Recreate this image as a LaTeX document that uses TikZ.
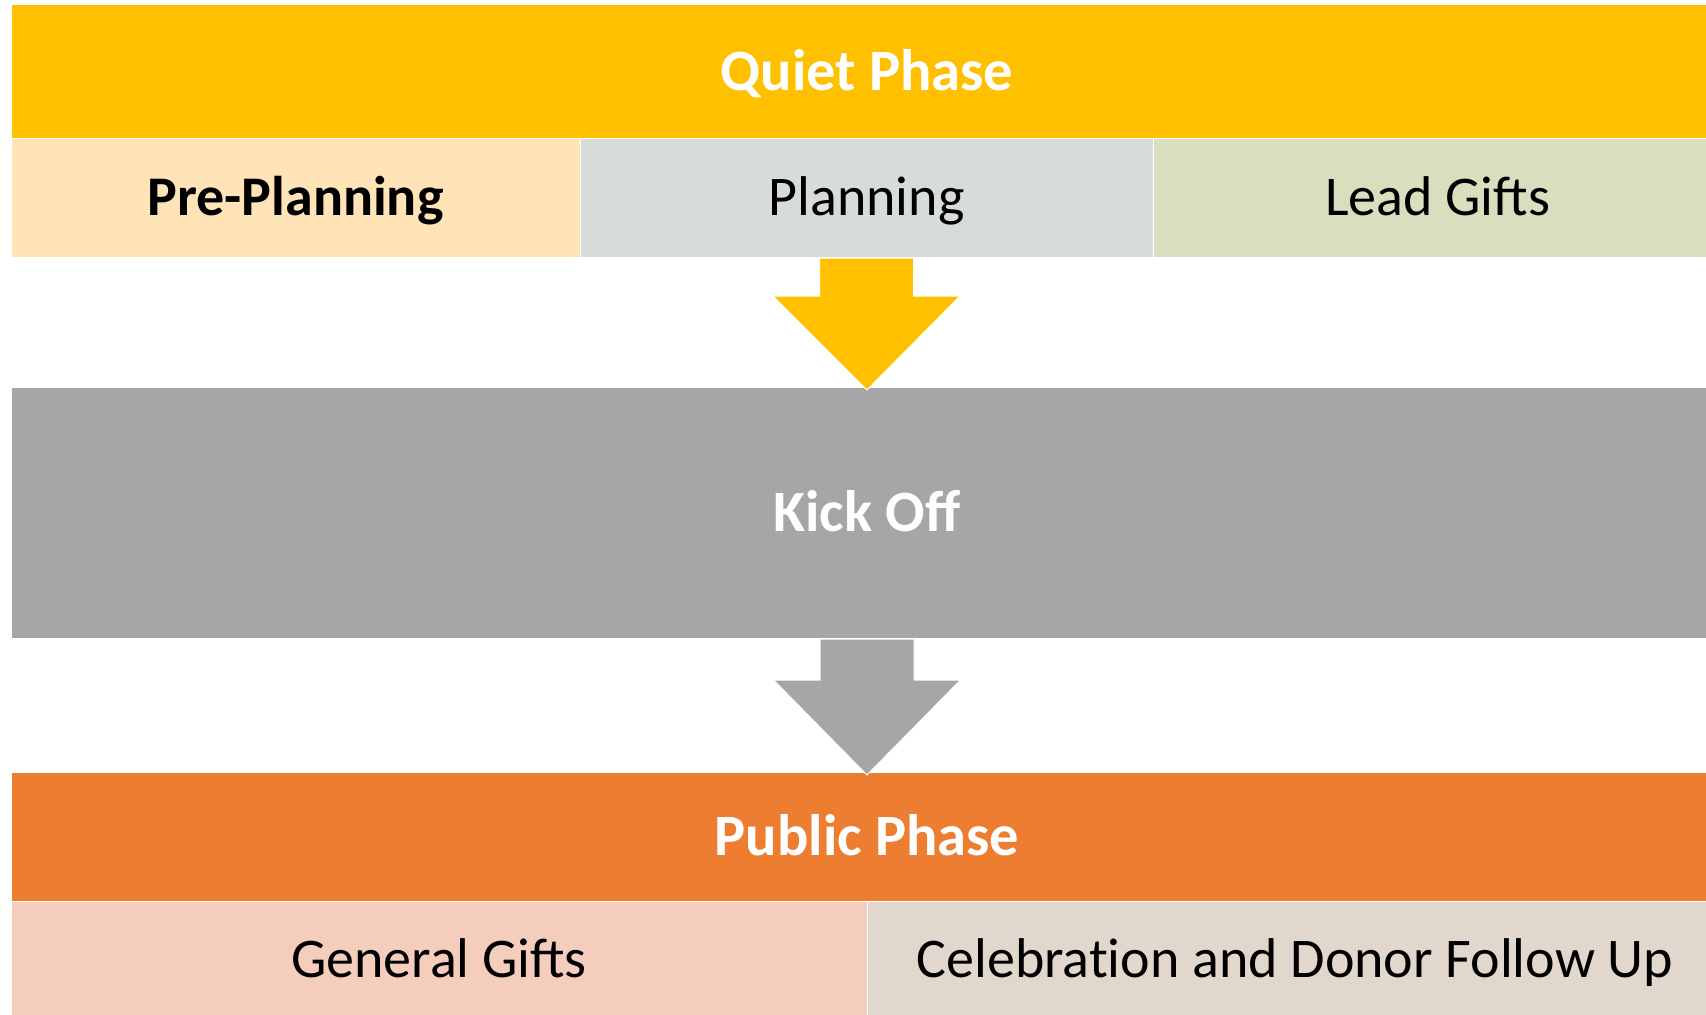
\documentclass[tikz,border=0pt]{standalone}
\usepackage{fontspec}
\setmainfont{Carlito}
\usetikzlibrary{calc}
\definecolor{quietc}{HTML}{FFC000}
\definecolor{prec}{HTML}{FFE4B8}
\definecolor{planc}{HTML}{D7DCD9}
\definecolor{leadc}{HTML}{D9DFBE}
\definecolor{kickc}{HTML}{A6A6A6}
\definecolor{publicc}{HTML}{ED7D31}
\definecolor{genc}{HTML}{F5CDBD}
\definecolor{celc}{HTML}{E1D7CD}
\begin{document}
\begin{tikzpicture}[x=1pt,y=-1pt,
  band/.style={rectangle, anchor=north west, inner sep=0pt, outer sep=0pt,
    font=\fontsize{56}{60}\selectfont, text height=36pt, text depth=0pt},
  head/.style={band, text=white, font=\fontsize{58.5}{62}\selectfont\bfseries, text height=37.5pt},
  cell/.style={band, text=black, draw=white, line width=0.8pt},
  blockarrow/.style={draw=white, line width=1pt, line join=miter}
]
\useasboundingbox (0,0) rectangle (1706,1015);
\fill[white] (0,0) rectangle (1706,1015);
% Quiet phase
\node[head, fill=quietc, minimum width=1710pt, minimum height=133pt] (quiet) at (12,5) {Quiet Phase};
\node[cell, fill=prec, minimum width=569pt, minimum height=119pt, font=\fontsize{56}{60}\selectfont\bfseries] (pre) at (11,138) {Pre-Planning};
\node[cell, fill=planc, minimum width=573pt, minimum height=119pt] (plan) at (580,138) {Planning};
\node[cell, fill=leadc, minimum width=569pt, minimum height=119pt] (lead) at (1153,138) {Lead Gifts};
% Kick off
\node[head, fill=kickc, minimum width=1710pt, minimum height=250pt] (kick) at (12,388) {Kick Off};
% Public phase
\node[head, fill=publicc, minimum width=1710pt, minimum height=128pt] (public) at (12,773) {Public Phase};
\node[cell, fill=genc, minimum width=856pt, minimum height=116pt] (gen) at (11,901) {General Gifts};
\node[cell, fill=celc, minimum width=856pt, minimum height=116pt] (cel) at (867,901) {Celebrat\kern0pt ion and Donor Follow Up};
% Arrows
\filldraw[blockarrow, fill=quietc]
  ($(plan.south)+(-47,1)$) -- ++(0,38) -- ++(-46.5,0)
  -- ($(kick.north)+(0,2)$)
  -- ($(plan.south)+(93.5,39)$) -- ++(-46.5,0) -- ++(0,-38) -- cycle;
\filldraw[blockarrow, fill=kickc]
  ($(kick.south)+(-47,1)$) -- ++(0,41) -- ++(-46.5,0)
  -- ($(public.north)+(0,2)$)
  -- ($(kick.south)+(93.5,42)$) -- ++(-46.5,0) -- ++(0,-41) -- cycle;
\end{tikzpicture}
\end{document}
